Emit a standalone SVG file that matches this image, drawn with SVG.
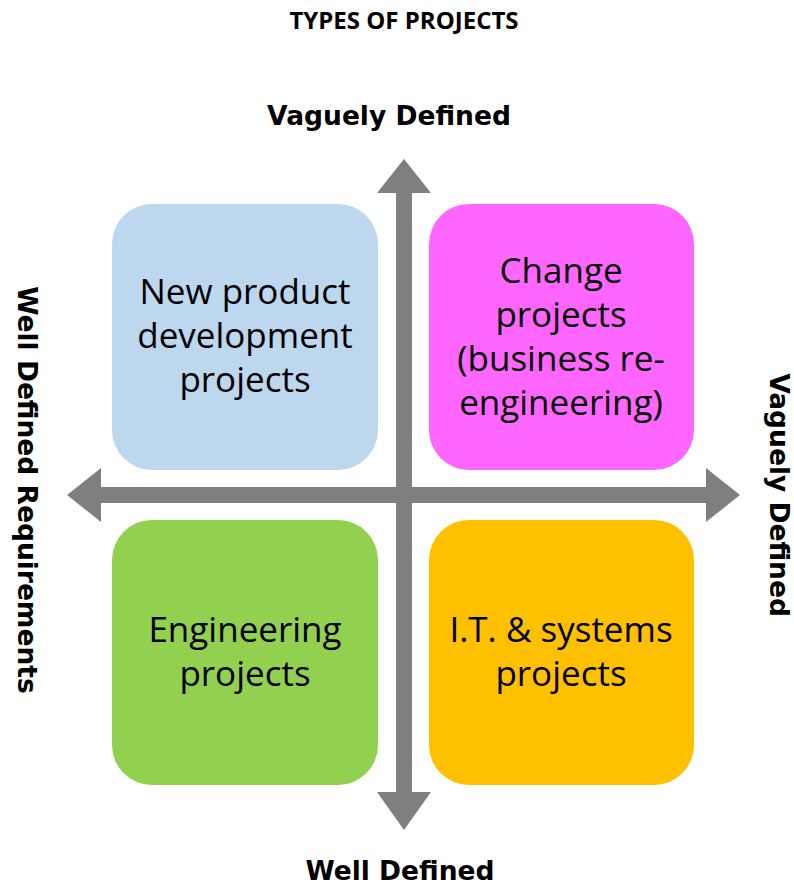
<svg xmlns="http://www.w3.org/2000/svg" width="794" height="885" viewBox="0 0 794 885">
<style>
.box{stroke:none}
.bt{font-family:"Open Sans","Liberation Sans",sans-serif;font-size:35px;fill:#000;text-anchor:middle}
.ax{font-family:"DejaVu Sans",sans-serif;font-weight:bold;font-size:26.5px;fill:#000;text-anchor:middle}
.title{font-family:"Open Sans","Liberation Sans",sans-serif;font-weight:bold;font-size:24px;fill:#000;text-anchor:middle}
.arrow{fill:#7F7F7F}
</style>
<rect width="794" height="885" fill="#fff"/>
<text class="title" x="404" y="29">TYPES OF PROJECTS</text>
<g id="node-new-product">
<rect class="box" x="112" y="204" width="266" height="266" rx="40" fill="#BDD7EE"/>
<text class="bt" x="245" y="304">New product</text>
<text class="bt" x="245" y="348">development</text>
<text class="bt" x="245" y="392">projects</text>
</g>
<g id="node-change">
<rect class="box" x="429" y="204" width="265" height="266" rx="40" fill="#FF66FF"/>
<text class="bt" x="561" y="283">Change</text>
<text class="bt" x="561" y="327">projects</text>
<text class="bt" x="561" y="371">(business re-</text>
<text class="bt" x="561" y="415">engineering)</text>
</g>
<g id="node-engineering">
<rect class="box" x="112" y="520" width="266" height="265" rx="40" fill="#92D050"/>
<text class="bt" x="245" y="642">Engineering</text>
<text class="bt" x="245" y="686">projects</text>
</g>
<g id="node-it">
<rect class="box" x="429" y="520" width="265" height="265" rx="40" fill="#FFC000"/>
<text class="bt" x="561" y="642">I.T. &amp; systems</text>
<text class="bt" x="561" y="686">projects</text>
</g>
<g id="connectors">
<polygon class="arrow" points="404,159 431,193 412,193 412,792 431,792 404,830 377,792 396,792 396,193 377,193"/>
<polygon class="arrow" points="67,495 101,468 101,487 706,487 706,468 740,495 706,522 706,503 101,503 101,522"/>
</g>
<text class="ax" x="389" y="125">Vaguely Defined</text>
<text class="ax" x="400" y="880">Well Defined</text>
<text class="ax" transform="translate(18,490) rotate(90)">Well Defined Requirements</text>
<text class="ax" transform="translate(770,495) rotate(90)">Vaguely Defined</text>
</svg>
